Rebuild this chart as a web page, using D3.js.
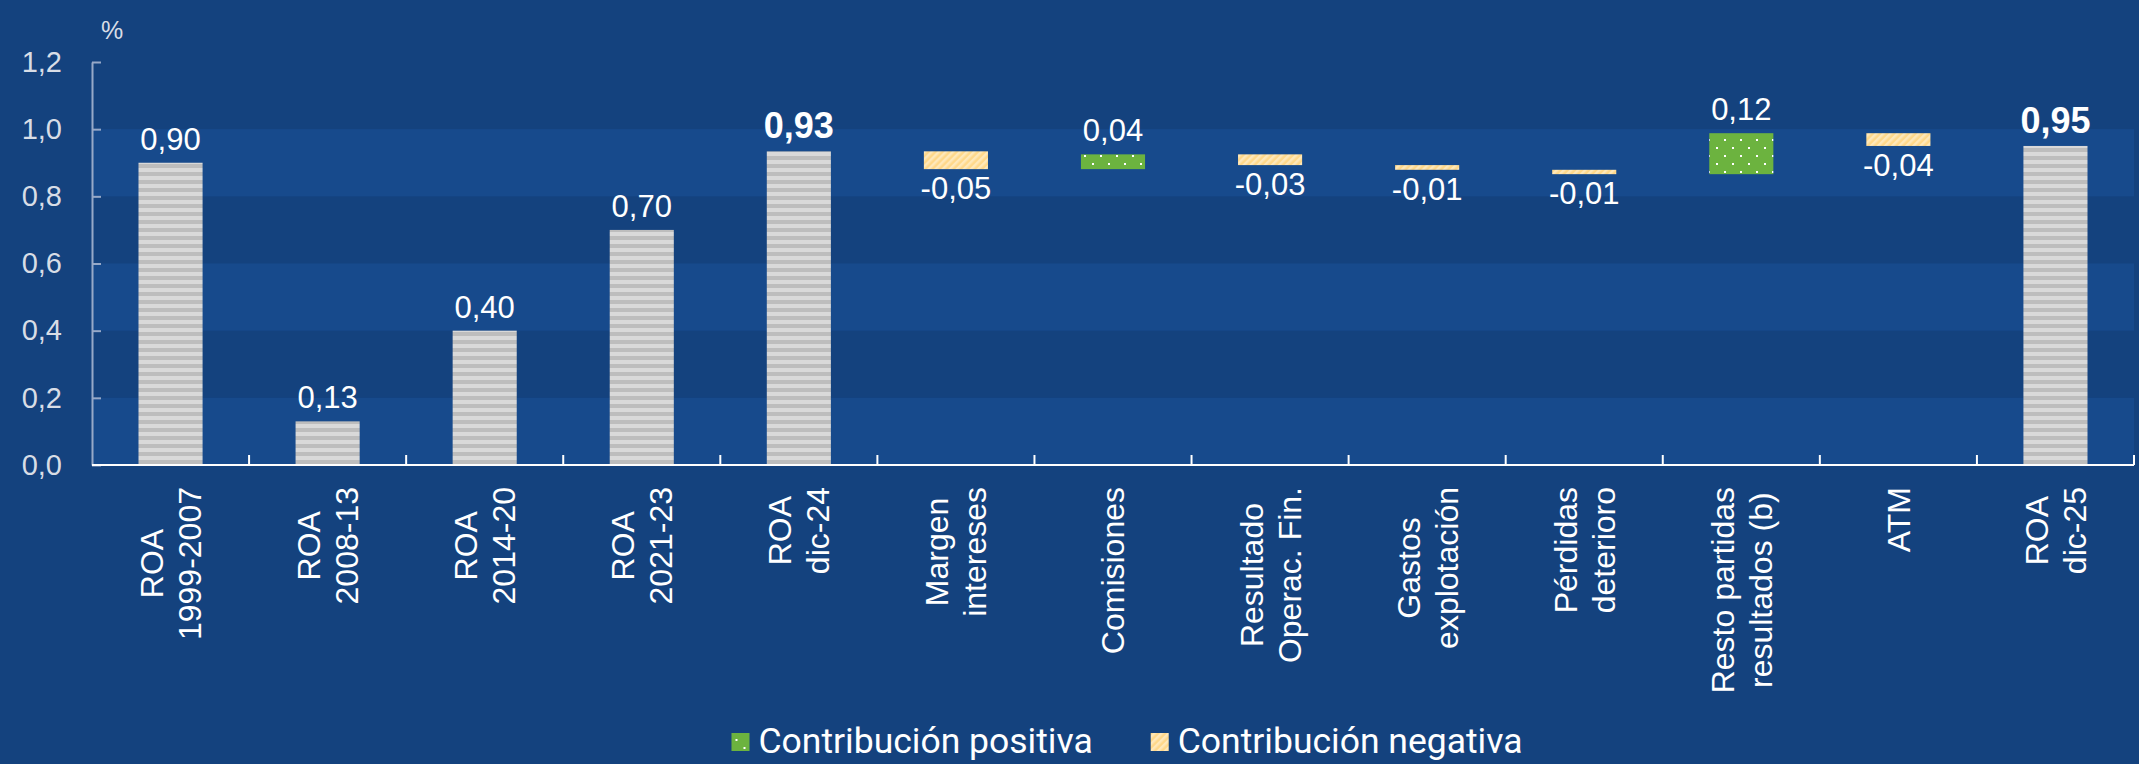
<!DOCTYPE html>
<html>
<head>
<meta charset="utf-8">
<script src="https://cdn.jsdelivr.net/npm/d3@7"></script>
<style>
  html, body { margin: 0; padding: 0; background: #14427e; }
  svg { display: block; }
</style>
</head>
<body>
<svg width="2139" height="764"></svg>
<script>
// categories, one entry per bar (lines of the rotated label)
const categoryLines = [
  ['ROA', '1999-2007'], ['ROA', '2008-13'], ['ROA', '2014-20'], ['ROA', '2021-23'],
  ['ROA', 'dic-24'], ['Margen', 'intereses'], ['Comisiones'], ['Resultado', 'Operac. Fin.'],
  ['Gastos', 'explotación'], ['Pérdidas', 'deterioro'], ['Resto partidas', 'resultados (b)'],
  ['ATM'], ['ROA', 'dic-25']
]
// ROA levels: four period averages and dic-24
const roaValues = [0.90, 0.13, 0.40, 0.70, 0.934]
// contributions from dic-24 to dic-25
const contribValues = [-0.053, 0.044, -0.032, -0.014, -0.013, 0.122, -0.038]
const roaEnd = 0.95
const yTicks = [0, 0.2, 0.4, 0.6, 0.8, 1.0, 1.2]
const legendItems = ['Contribución positiva', 'Contribución negativa']

const locale = d3.formatLocale({ decimal: ',', thousands: '.', grouping: [3], currency: ['', '€'], minus: '-' })
const fmt2 = locale.format('.2f')
const fmt1 = locale.format('.1f')

// build rows for the waterfall
const categories = categoryLines.map((d) => d.join(' '))
const rows = []
roaValues.forEach((v, i) => rows.push({ cat: categories[i], kind: 'total', lo: 0, hi: v, v, bold: i === roaValues.length - 1 }))
let level = roaValues[roaValues.length - 1]
contribValues.forEach((v, i) => {
  const start = level
  level += v
  rows.push({ cat: categories[roaValues.length + i], kind: v >= 0 ? 'pos' : 'neg', lo: Math.min(start, level), hi: Math.max(start, level), v })
})
rows.push({ cat: categories[categories.length - 1], kind: 'total', lo: 0, hi: roaEnd, v: roaEnd, bold: true })

const svg = d3.select('svg')
const W = 2139
const H = 764
const plotLeft = 92
const plotRight = 2134
const plotBottom = 465
const plotTop = 62
const font = 'Liberation Sans, Arial, sans-serif'

svg.append('rect').attr('width', W).attr('height', H).attr('fill', '#14427e')

const x = d3.scaleBand().domain(categories).range([plotLeft, plotRight]).paddingInner(0.592).paddingOuter(0.296)
const y = d3.scaleLinear().domain([0, 1.2]).range([plotBottom, plotTop])

// patterns
const defs = svg.append('defs')
const grey = defs.append('pattern').attr('id', 'grey').attr('patternUnits', 'userSpaceOnUse').attr('width', 8).attr('height', 8)
grey.append('rect').attr('width', 8).attr('height', 8).attr('fill', '#d9d9d9')
grey.append('rect').attr('y', 4).attr('width', 8).attr('height', 4).attr('fill', '#bdbdbd')

const green = defs.append('pattern').attr('id', 'green').attr('patternUnits', 'userSpaceOnUse').attr('width', 16).attr('height', 16)
green.append('rect').attr('width', 16).attr('height', 16).attr('fill', '#6cb33f')
green.append('rect').attr('x', 4).attr('y', 3).attr('width', 2).attr('height', 2).attr('fill', '#ffffff')
green.append('rect').attr('x', 12).attr('y', 11).attr('width', 2).attr('height', 2).attr('fill', '#ffffff')

const orange = defs.append('pattern').attr('id', 'orange').attr('patternUnits', 'userSpaceOnUse')
  .attr('width', 5).attr('height', 5).attr('patternTransform', 'rotate(45)')
orange.append('rect').attr('width', 5).attr('height', 5).attr('fill', '#ffd88a')
orange.append('rect').attr('width', 2.5).attr('height', 5).attr('fill', '#ffe8b9')

// alternating horizontal bands
const bandPairs = d3.pairs(yTicks).filter((d, i) => i % 2 === 0)
svg.append('g').selectAll('rect').data(bandPairs).join('rect')
  .attr('x', plotLeft).attr('width', plotRight - plotLeft)
  .attr('y', (d) => y(d[1])).attr('height', (d) => y(d[0]) - y(d[1]))
  .attr('fill', '#174a8c')

// y axis
const yAxis = svg.append('g').attr('transform', `translate(${plotLeft},0)`)
  .call(d3.axisLeft(y).tickValues(yTicks).tickFormat(fmt1).tickSizeInner(-9).tickSizeOuter(0).tickPadding(30))
yAxis.select('.domain').attr('stroke', '#97a9c8').attr('stroke-width', 2)
yAxis.selectAll('.tick line').attr('stroke', '#97a9c8').attr('stroke-width', 2)
yAxis.selectAll('.tick text').attr('fill', '#d8dde6').attr('font-size', 29).attr('font-family', font)

svg.append('text').attr('x', 101).attr('y', 39).text('%')
  .attr('fill', '#d8dde6').attr('font-size', 25).attr('font-family', font)

// bars
const fillFor = { total: 'url(#grey)', pos: 'url(#green)', neg: 'url(#orange)' }
svg.append('g').selectAll('rect').data(rows).join('rect')
  .attr('x', (d) => x(d.cat)).attr('width', x.bandwidth())
  .attr('y', (d) => y(d.hi)).attr('height', (d) => y(d.lo) - y(d.hi))
  .attr('fill', (d) => fillFor[d.kind])

// x axis line and ticks at category boundaries
svg.append('line').attr('x1', plotLeft).attr('x2', plotRight).attr('y1', plotBottom).attr('y2', plotBottom)
  .attr('stroke', '#ffffff').attr('stroke-width', 2)
svg.append('g').selectAll('line').data(categories).join('line')
  .attr('x1', (d) => x(d) + x.bandwidth() / 2 + x.step() / 2)
  .attr('x2', (d) => x(d) + x.bandwidth() / 2 + x.step() / 2)
  .attr('y1', plotBottom).attr('y2', plotBottom - 10)
  .attr('stroke', '#ffffff').attr('stroke-width', 2)

// value labels
svg.append('g').selectAll('text').data(rows).join('text')
  .attr('x', (d) => x(d.cat) + x.bandwidth() / 2)
  .attr('y', (d) => (d.kind === 'neg' ? y(d.lo) + 30 : y(d.hi) - 13))
  .attr('text-anchor', 'middle')
  .attr('fill', '#ffffff')
  .attr('font-family', font)
  .attr('font-size', (d) => (d.bold ? 36 : 31))
  .attr('font-weight', (d) => (d.bold ? 'bold' : 'normal'))
  .text((d) => fmt2(d.v))

// category labels, rotated, block top-aligned just under the axis
const fs = 32
const lh = 38
const cap = 0.716 * fs
const catG = svg.append('g').selectAll('g').data(categoryLines).join('g')
  .attr('transform', (d, i) => `translate(${x(categories[i]) + x.bandwidth() / 2},487) rotate(-90)`)
catG.each(function (lines) {
  const g = d3.select(this)
  const texts = lines.map((t, j) => g.append('text')
    .attr('y', j * lh - ((lines.length - 1) * lh) / 2 + cap / 2)
    .attr('text-anchor', 'middle')
    .attr('fill', '#ffffff')
    .attr('font-size', fs)
    .attr('font-family', font)
    .text(t))
  const maxLen = d3.max(texts, (t) => t.node().getComputedTextLength())
  texts.forEach((t) => t.attr('x', -maxLen / 2))
})

// legend
const legend = svg.append('g')
const legendFills = ['url(#green)', 'url(#orange)']
let lx = 0
legendItems.forEach((name, i) => {
  const g = legend.append('g')
  g.append('rect').attr('x', 0).attr('y', 733).attr('width', 18).attr('height', 18).attr('fill', legendFills[i])
  const t = g.append('text').attr('x', 27).attr('y', 753).text(name)
    .attr('fill', '#ffffff').attr('font-size', 35.5).attr('font-family', 'Roboto, sans-serif')
  const w = 27 + t.node().getComputedTextLength()
  g.attr('transform', `translate(${lx},0)`)
  lx += w + 58
})
const legendWidth = lx - 58
legend.attr('transform', `translate(${1127 - legendWidth / 2},0)`)
</script>
</body>
</html>
